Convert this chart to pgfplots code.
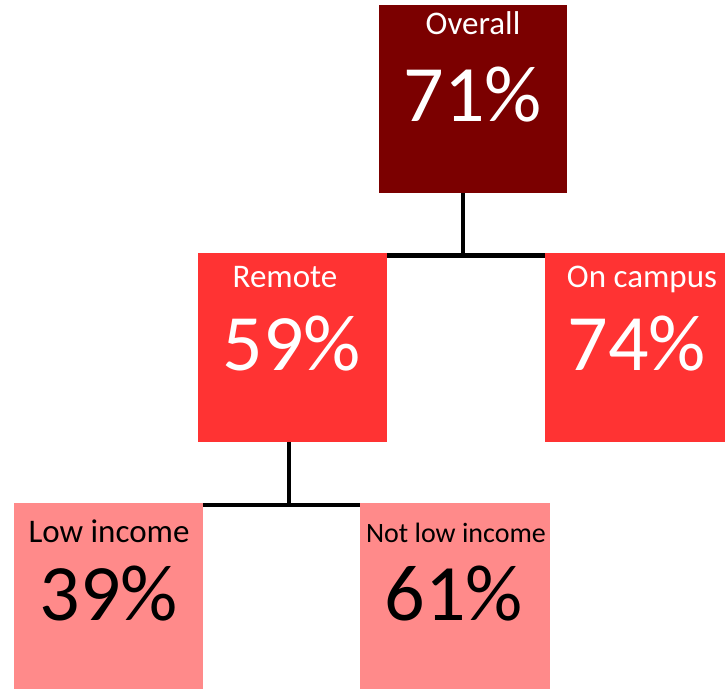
\documentclass[border=0pt]{standalone}
\usepackage{fontspec}
\setmainfont{Carlito}
\usepackage{pgfplots}
\pgfplotsset{compat=1.18}

\definecolor{lvlone}{RGB}{123,0,0}
\definecolor{lvltwo}{RGB}{255,51,51}
\definecolor{lvlthree}{RGB}{255,138,138}

\newcommand{\lab}[1]{\fontsize{33}{36}\selectfont #1}
\newcommand{\num}[1]{\fontsize{80}{90}\selectfont #1}

\begin{document}
\begin{tikzpicture}
\begin{axis}[
  width=725pt, height=689pt, scale only axis,
  xmin=0, xmax=725, ymin=0, ymax=689,
  hide axis,
]
% boxes (pixel frame, y measured from the bottom)
\addplot[draw=none, fill=lvlone] coordinates {(379,496) (567,496) (567,684) (379,684)} -- cycle;
\addplot[draw=none, fill=lvltwo] coordinates {(198,247) (387,247) (387,436) (198,436)} -- cycle;
\addplot[draw=none, fill=lvltwo] coordinates {(545,247) (725,247) (725,436) (545,436)} -- cycle;
\addplot[draw=none, fill=lvlthree] coordinates {(14,0) (203,0) (203,186) (14,186)} -- cycle;
\addplot[draw=none, fill=lvlthree] coordinates {(360,0) (550,0) (550,186) (360,186)} -- cycle;
% connectors
\addplot[black, line width=4.5pt] coordinates {(463,496) (463,433.5)};
\addplot[black, line width=4.5pt] coordinates {(387,433.5) (545,433.5)};
\addplot[black, line width=4.5pt] coordinates {(289,247) (289,184)};
\addplot[black, line width=4.5pt] coordinates {(203,184) (360,184)};
% texts
\node[anchor=base, text=white, inner sep=0pt] at (473,654) {\lab{Overall}};
\node[anchor=base, text=white, inner sep=0pt] at (473,567) {\num{71\%}};
\node[anchor=base, text=white, inner sep=0pt] at (285,401) {\lab{Remote}};
\node[anchor=base, text=white, inner sep=0pt] at (292,319) {\num{59\%}};
\node[anchor=base, text=white, inner sep=0pt] at (642,401) {\lab{On campus}};
\node[anchor=base, text=white, inner sep=0pt] at (637,319) {\num{74\%}};
\node[anchor=base, text=black, inner sep=0pt] at (109,147) {\lab{Low income}};
\node[anchor=base, text=black, inner sep=0pt] at (109,69) {\num{39\%}};
\node[anchor=base, text=black, inner sep=0pt] at (456,147) {\fontsize{28}{30}\selectfont Not low income};
\node[anchor=base, text=black, inner sep=0pt] at (454,69) {\num{61\%}};
\path (rel axis cs:0,0) rectangle (rel axis cs:1,1);
\end{axis}
\end{tikzpicture}
\end{document}
